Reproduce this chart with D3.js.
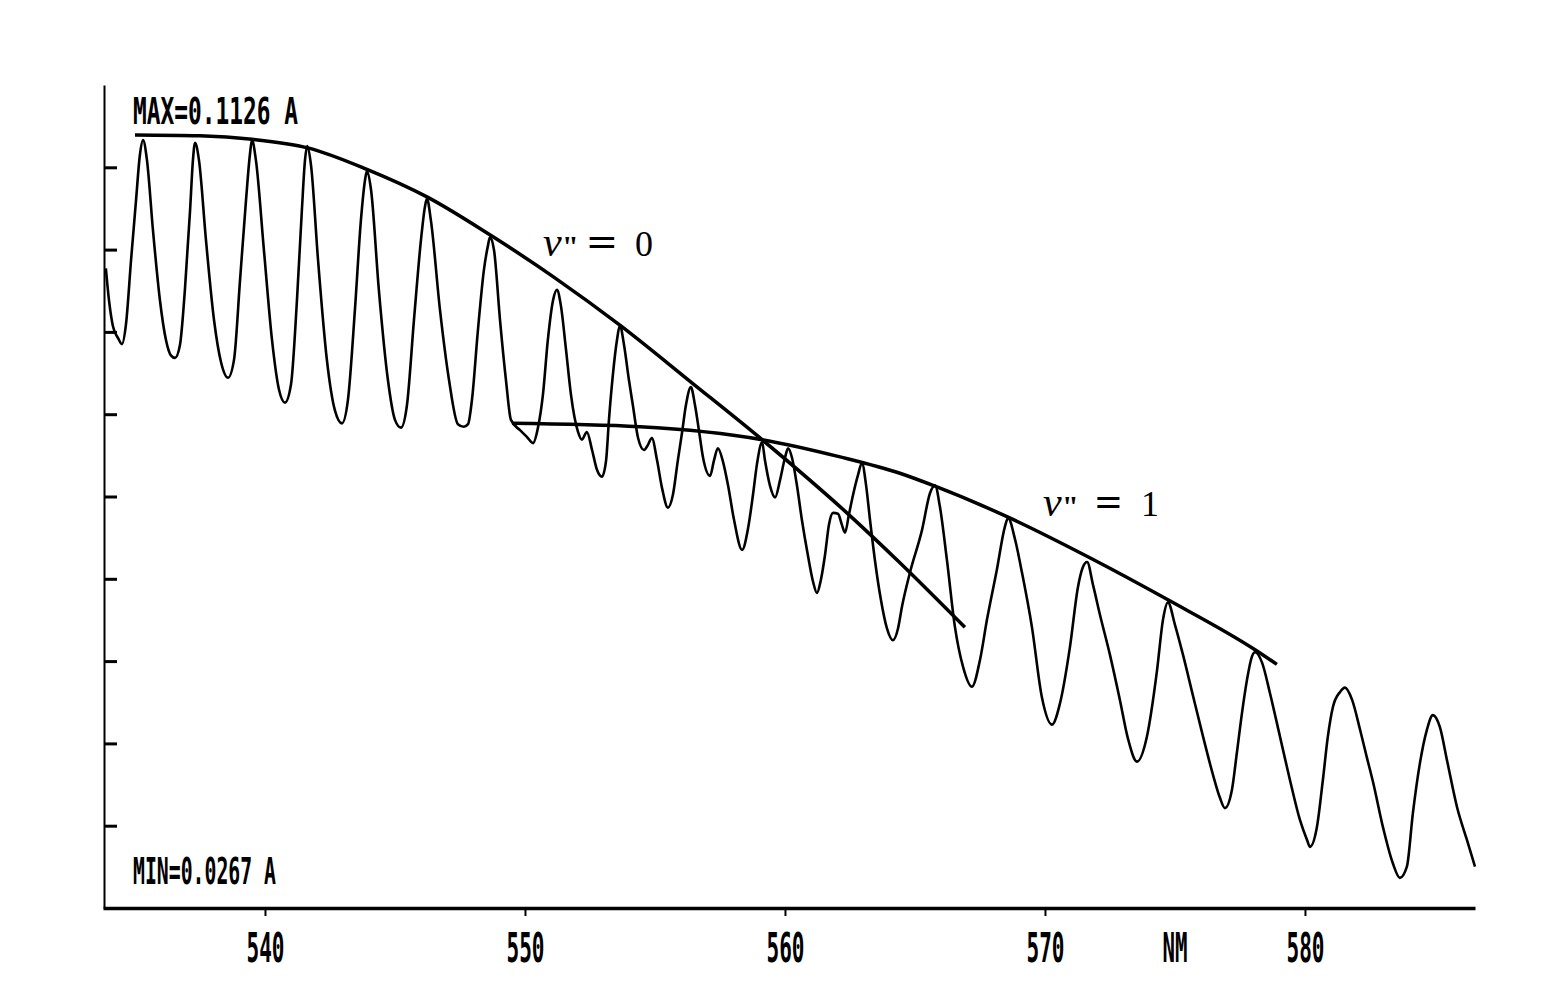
<!DOCTYPE html>
<html>
<head>
<meta charset="utf-8">
<script src="https://cdn.jsdelivr.net/npm/d3@7"></script>
<style>
  body { margin: 0; background: #fff; }
  svg { display: block; }
  .plotter { font-family: "DejaVu Sans Mono", monospace; font-weight: bold; fill: #000; }
  .serif { font-family: "Liberation Serif", "Times New Roman", serif; fill: #000; }
</style>
</head>
<body>
<div id="chart"></div>
<script>
// sampled points along the recorded trace (wavelength in nm, absorbance in A)
const wavelength = [
    533.88, 534.00, 534.15, 534.35, 534.50, 534.65, 534.85, 535.04, 535.19, 535.31,
    535.46, 535.69, 535.96, 536.19, 536.38, 536.54, 536.73, 536.92, 537.12, 537.23,
    537.31, 537.46, 537.73, 538.04, 538.31, 538.58, 538.81, 539.04, 539.27, 539.42,
    539.50, 539.65, 539.96, 540.27, 540.54, 540.77, 541.00, 541.23, 541.42, 541.54,
    541.62, 541.77, 542.04, 542.38, 542.69, 542.96, 543.19, 543.46, 543.69, 543.85,
    543.92, 544.08, 544.38, 544.73, 545.00, 545.23, 545.46, 545.73, 546.00, 546.15,
    546.23, 546.38, 546.73, 547.08, 547.42, 547.65, 547.81, 547.96, 548.19, 548.42,
    548.58, 548.65, 548.81, 549.04, 549.27, 549.46, 549.81, 550.08, 550.31, 550.50,
    550.69, 550.88, 551.08, 551.23, 551.38, 551.58, 551.77, 552.04, 552.19, 552.38,
    552.58, 552.77, 552.96, 553.12, 553.23, 553.38, 553.54, 553.65, 553.81, 554.00,
    554.15, 554.35, 554.58, 554.73, 554.88, 555.08, 555.27, 555.50, 555.69, 555.88,
    556.04, 556.19, 556.38, 556.54, 556.69, 556.85, 557.12, 557.27, 557.42, 557.62,
    557.81, 558.04, 558.35, 558.58, 558.77, 558.92, 559.12, 559.23, 559.42, 559.62,
    559.81, 560.00, 560.12, 560.27, 560.46, 560.65, 560.88, 561.08, 561.23, 561.38,
    561.54, 561.69, 561.85, 562.04, 562.19, 562.31, 562.46, 562.62, 562.81, 562.96,
    563.12, 563.27, 563.46, 563.69, 563.92, 564.15, 564.35, 564.50, 564.81, 565.27,
    565.58, 565.77, 565.96, 566.23, 566.54, 566.85, 567.19, 567.50, 567.77, 568.15,
    568.46, 568.58, 568.85, 569.12, 569.50, 569.88, 570.27, 570.58, 570.96, 571.27,
    571.46, 571.62, 571.85, 572.12, 572.50, 572.88, 573.19, 573.54, 573.92, 574.31,
    574.54, 574.73, 575.00, 575.31, 575.69, 576.04, 576.46, 576.73, 576.92, 577.19,
    577.38, 577.58, 577.77, 577.96, 578.08, 578.35, 578.65, 579.04, 579.42, 579.81,
    580.08, 580.19, 580.46, 580.69, 580.88, 581.08, 581.35, 581.54, 581.81, 582.12,
    582.38, 582.62, 583.00, 583.38, 583.65, 583.92, 584.15, 584.42, 584.69, 584.92,
    585.19, 585.46, 585.85, 586.23, 586.54
];
const absorbance = [
    0.0976, 0.0939, 0.0909, 0.0895, 0.0888, 0.0910, 0.0986, 0.1055, 0.1108, 0.1125,
    0.1102, 0.1021, 0.0939, 0.0893, 0.0875, 0.0872, 0.0887, 0.0951, 0.1044, 0.1102,
    0.1122, 0.1102, 0.1009, 0.0916, 0.0867, 0.0849, 0.0870, 0.0962, 0.1055, 0.1108,
    0.1125, 0.1102, 0.0997, 0.0893, 0.0835, 0.0820, 0.0841, 0.0939, 0.1044, 0.1102,
    0.1118, 0.1096, 0.0986, 0.0870, 0.0811, 0.0796, 0.0823, 0.0928, 0.1032, 0.1079,
    0.1089, 0.1067, 0.0951, 0.0846, 0.0800, 0.0791, 0.0817, 0.0916, 0.1009, 0.1047,
    0.1057, 0.1032, 0.0928, 0.0846, 0.0795, 0.0792, 0.0795, 0.0823, 0.0904, 0.0974,
    0.1003, 0.1012, 0.0997, 0.0916, 0.0846, 0.0800, 0.0788, 0.0780, 0.0773, 0.0791,
    0.0829, 0.0893, 0.0939, 0.0951, 0.0933, 0.0881, 0.0829, 0.0786, 0.0777, 0.0786,
    0.0765, 0.0742, 0.0734, 0.0753, 0.0800, 0.0852, 0.0893, 0.0910, 0.0887, 0.0846,
    0.0817, 0.0779, 0.0765, 0.0771, 0.0779, 0.0753, 0.0721, 0.0698, 0.0713, 0.0753,
    0.0785, 0.0817, 0.0838, 0.0817, 0.0788, 0.0756, 0.0735, 0.0753, 0.0767, 0.0751,
    0.0724, 0.0684, 0.0649, 0.0674, 0.0713, 0.0748, 0.0774, 0.0753, 0.0724, 0.0710,
    0.0730, 0.0756, 0.0767, 0.0756, 0.0724, 0.0684, 0.0643, 0.0612, 0.0599, 0.0614,
    0.0643, 0.0678, 0.0692, 0.0691, 0.0678, 0.0669, 0.0690, 0.0713, 0.0736, 0.0750,
    0.0724, 0.0684, 0.0637, 0.0591, 0.0558, 0.0544, 0.0558, 0.0583, 0.0623, 0.0672,
    0.0715, 0.0724, 0.0699, 0.0637, 0.0559, 0.0513, 0.0490, 0.0521, 0.0568, 0.0626,
    0.0676, 0.0686, 0.0661, 0.0622, 0.0559, 0.0478, 0.0446, 0.0471, 0.0536, 0.0606,
    0.0629, 0.0635, 0.0608, 0.0573, 0.0527, 0.0475, 0.0430, 0.0403, 0.0432, 0.0509,
    0.0568, 0.0588, 0.0562, 0.0527, 0.0480, 0.0437, 0.0388, 0.0361, 0.0349, 0.0370,
    0.0413, 0.0460, 0.0498, 0.0525, 0.0530, 0.0518, 0.0483, 0.0432, 0.0382, 0.0335,
    0.0312, 0.0304, 0.0327, 0.0382, 0.0432, 0.0467, 0.0484, 0.0489, 0.0475, 0.0440,
    0.0408, 0.0379, 0.0327, 0.0285, 0.0268, 0.0281, 0.0343, 0.0401, 0.0440, 0.0457,
    0.0443, 0.0405, 0.0350, 0.0312, 0.0281
];

// envelopes drawn by hand through the band heads
const v0Wavelength = [535.00, 537.50, 539.50, 541.65, 543.92, 546.23, 548.65, 551.15, 553.65, 556.42, 559.12, 562.38, 564.42, 566.92];
const v0Absorbance = [0.1131, 0.1130, 0.1126, 0.1116, 0.1091, 0.1059, 0.1015, 0.0965, 0.0910, 0.0843, 0.0777, 0.0692, 0.0634, 0.0559];
const v1Wavelength = [549.50, 554.42, 559.12, 562.12, 564.42, 565.77, 568.58, 571.65, 574.73, 578.08, 578.92];
const v1Absorbance = [0.0796, 0.0792, 0.0777, 0.0757, 0.0738, 0.0723, 0.0687, 0.0641, 0.0591, 0.0533, 0.0516];

const xTickValues = [540, 550, 560, 570, 580];
const yTickValues = [0.03286, 0.04242, 0.05198, 0.06154, 0.0711, 0.08066, 0.09022, 0.09978, 0.10934];
const maxLabel = "MAX=0.1126 A";
const minLabel = "MIN=0.0267 A";
const unitLabel = "NM";

const width = 1563;
const height = 1004;

const svg = d3.select("#chart")
    .append("svg")
    .attr("width", width)
    .attr("height", height);

const x = d3.scaleLinear().domain([533.77, 586.54]).range([103, 1475]);
const y = d3.scaleLinear().domain([0.0233, 0.1189]).range([908, 85]);

// y axis: plain line with short inward ticks, no labels
const yAxis = svg.append("g")
    .attr("transform", "translate(104,0)")
    .call(d3.axisLeft(y).tickValues(yTickValues).tickSize(-13).tickSizeOuter(0).tickFormat(""));
yAxis.select(".domain").attr("stroke", "#000").attr("stroke-width", 2);
yAxis.selectAll(".tick line").attr("stroke", "#000").attr("stroke-width", 3);

// x axis
const xAxis = svg.append("g")
    .attr("transform", "translate(0,908)")
    .call(d3.axisBottom(x).tickValues(xTickValues).tickSize(8).tickSizeOuter(0).tickPadding(18));
xAxis.select(".domain").attr("stroke", "#000").attr("stroke-width", 3.5);
xAxis.selectAll(".tick line").attr("stroke", "#000").attr("stroke-width", 2);
xAxis.selectAll(".tick text")
    .attr("class", "plotter")
    .attr("fill", "#000")
    .style("font-family", "'DejaVu Sans Mono', monospace")
    .style("font-weight", "bold")
    .style("font-size", "40px")
    .attr("textLength", 38)
    .attr("lengthAdjust", "spacingAndGlyphs");

svg.append("text")
    .attr("class", "plotter")
    .attr("x", 1175)
    .attr("y", 962)
    .attr("text-anchor", "middle")
    .style("font-size", "40px")
    .attr("textLength", 25)
    .attr("lengthAdjust", "spacingAndGlyphs")
    .text(unitLabel);

// MAX / MIN readouts
svg.append("text")
    .attr("class", "plotter")
    .attr("x", 133).attr("y", 124)
    .style("font-size", "37px")
    .attr("textLength", 165)
    .attr("lengthAdjust", "spacingAndGlyphs")
    .text(maxLabel);

svg.append("text")
    .attr("class", "plotter")
    .attr("x", 133).attr("y", 884)
    .style("font-size", "37px")
    .attr("textLength", 143)
    .attr("lengthAdjust", "spacingAndGlyphs")
    .text(minLabel);

// spectrum trace
const spectrum = wavelength.map((w, i) => [w, absorbance[i]]);
const line = d3.line()
    .x(d => x(d[0]))
    .y(d => y(d[1]))
    .curve(d3.curveMonotoneX);

svg.append("path")
    .datum(spectrum)
    .attr("d", line)
    .attr("fill", "none")
    .attr("stroke", "#000")
    .attr("stroke-width", 2.6)
    .attr("stroke-linejoin", "round");

// envelopes
const envelopes = [
    v0Wavelength.map((w, i) => [w, v0Absorbance[i]]),
    v1Wavelength.map((w, i) => [w, v1Absorbance[i]])
];
svg.append("g")
    .selectAll("path")
    .data(envelopes)
    .enter()
    .append("path")
    .attr("d", line)
    .attr("fill", "none")
    .attr("stroke", "#000")
    .attr("stroke-width", 3.5)
    .attr("stroke-linecap", "butt");

// v" = 0 / v" = 1 labels
function bandLabel(x0, base, level, eqX, eqW, digitX) {
    const g = svg.append("g").attr("class", "serif");
    g.append("text").attr("x", x0).attr("y", base)
        .style("font-size", "42px").style("font-style", "italic").text("v");
    g.append("text").attr("x", x0 + 19).attr("y", base)
        .style("font-size", "30px").style("font-weight", "bold").text('"');
    g.append("text").attr("x", eqX).attr("y", base)
        .style("font-size", "42px").style("font-weight", "bold")
        .attr("textLength", eqW).attr("lengthAdjust", "spacingAndGlyphs").text("=");
    g.append("text").attr("x", digitX).attr("y", base)
        .style("font-size", "36px").text(level);
}
bandLabel(543, 256, "0", 587, 30, 635);
bandLabel(1043, 516, "1", 1095, 27, 1141);
</script>
</body>
</html>
